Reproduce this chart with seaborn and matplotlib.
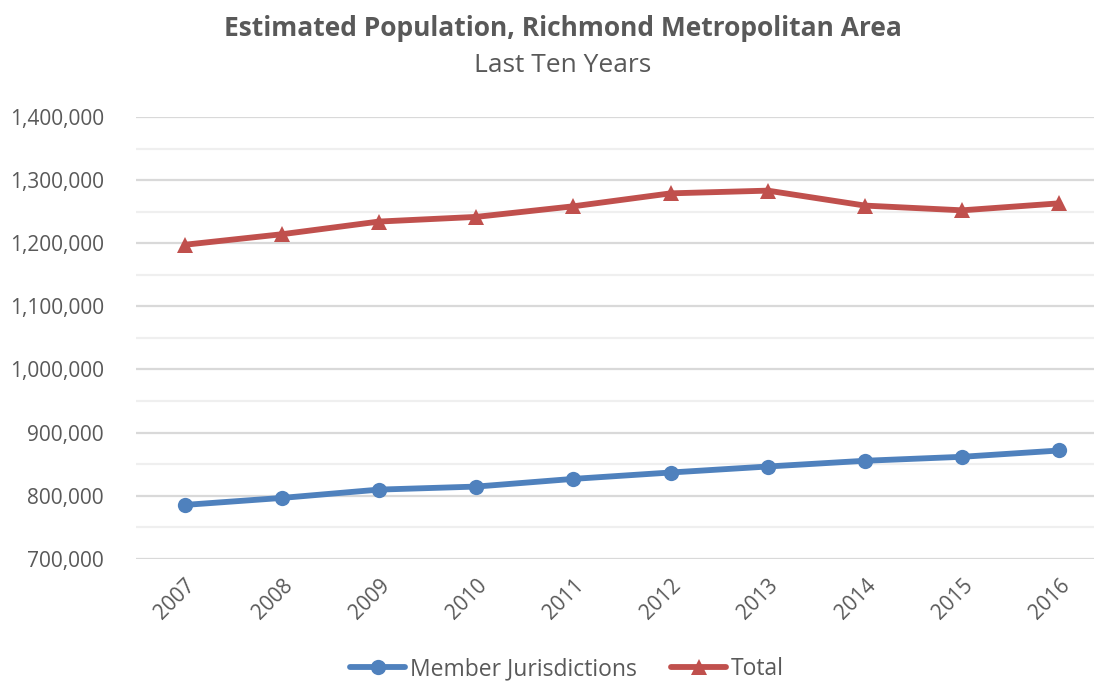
import pandas as pd
import matplotlib.pyplot as plt
import matplotlib.ticker as mtick
import seaborn as sns

years = [2007, 2008, 2009, 2010, 2011, 2012, 2013, 2014, 2015, 2016]
member = [785200, 796300, 809500, 814300, 826500, 836600, 846100, 855200, 861500, 871500]
total = [1197500, 1214200, 1234300, 1241700, 1258500, 1279000, 1283300, 1259600, 1252100, 1263200]
series_names = ['Member Jurisdictions', 'Total']
colors = ['#4F81BD', '#C0504D']

df = pd.DataFrame({
    'year': years * 2,
    'pop': member + total,
    'series': [series_names[0]] * len(years) + [series_names[1]] * len(years),
})

sns.set_style('white')
plt.rcParams['font.family'] = ['Open Sans', 'DejaVu Sans']
grey = '#595959'

fig = plt.figure(figsize=(10.94, 6.81), dpi=100)
ax = fig.add_axes([136 / 1094, 1 - 558.7 / 681, (1108 - 136) / 1094, (558.7 - 117) / 681])

# gridlines: major every 100k, minor every 50k
for v in range(700000, 1400001, 50000):
    major = v % 100000 == 0
    ax.axhline(v, color='#D9D9D9' if major else '#EFEFEF', lw=1.6, zorder=0)

sns.lineplot(data=df, x='year', y='pop', hue='series', style='series',
             palette=colors, markers=['o', '^'], dashes=False,
             lw=4.2, markersize=11, markeredgewidth=0, ax=ax)

ax.set_xlim(2006.5, 2016.5)
ax.set_ylim(700000, 1400000)
ax.set_yticks(range(700000, 1400001, 100000))
ax.yaxis.set_major_formatter(mtick.StrMethodFormatter('{x:,.0f}'))
ax.set_xticks(years)
ax.set_xticklabels([str(y) for y in years], rotation=45, ha='right', rotation_mode='anchor')
ax.tick_params(axis='both', length=0, labelsize=15, labelcolor=grey)
ax.tick_params(axis='y', pad=23)
ax.tick_params(axis='x', pad=12)
ax.set_xlabel('')
ax.set_ylabel('')
sns.despine(ax=ax, left=True, bottom=True)

handles, labels = ax.get_legend_handles_labels()
ax.legend_.remove()
leg = fig.legend(handles, labels, loc='center', bbox_to_anchor=(567 / 1094, 1 - 669 / 681),
                 ncol=2, frameon=False, fontsize=16.5, handlelength=2.4,
                 handletextpad=0.2, columnspacing=1.5)
for t in leg.get_texts():
    t.set_color(grey)

fig.text(563 / 1094, 1 - 28 / 681, 'Estimated Population, Richmond Metropolitan Area',
         ha='center', va='center', fontsize=19, fontweight='bold', color=grey)
fig.text(563 / 1094, 1 - 66 / 681, 'Last Ten Years',
         ha='center', va='center', fontsize=19, color=grey)

fig.savefig('out.png', dpi=100)
